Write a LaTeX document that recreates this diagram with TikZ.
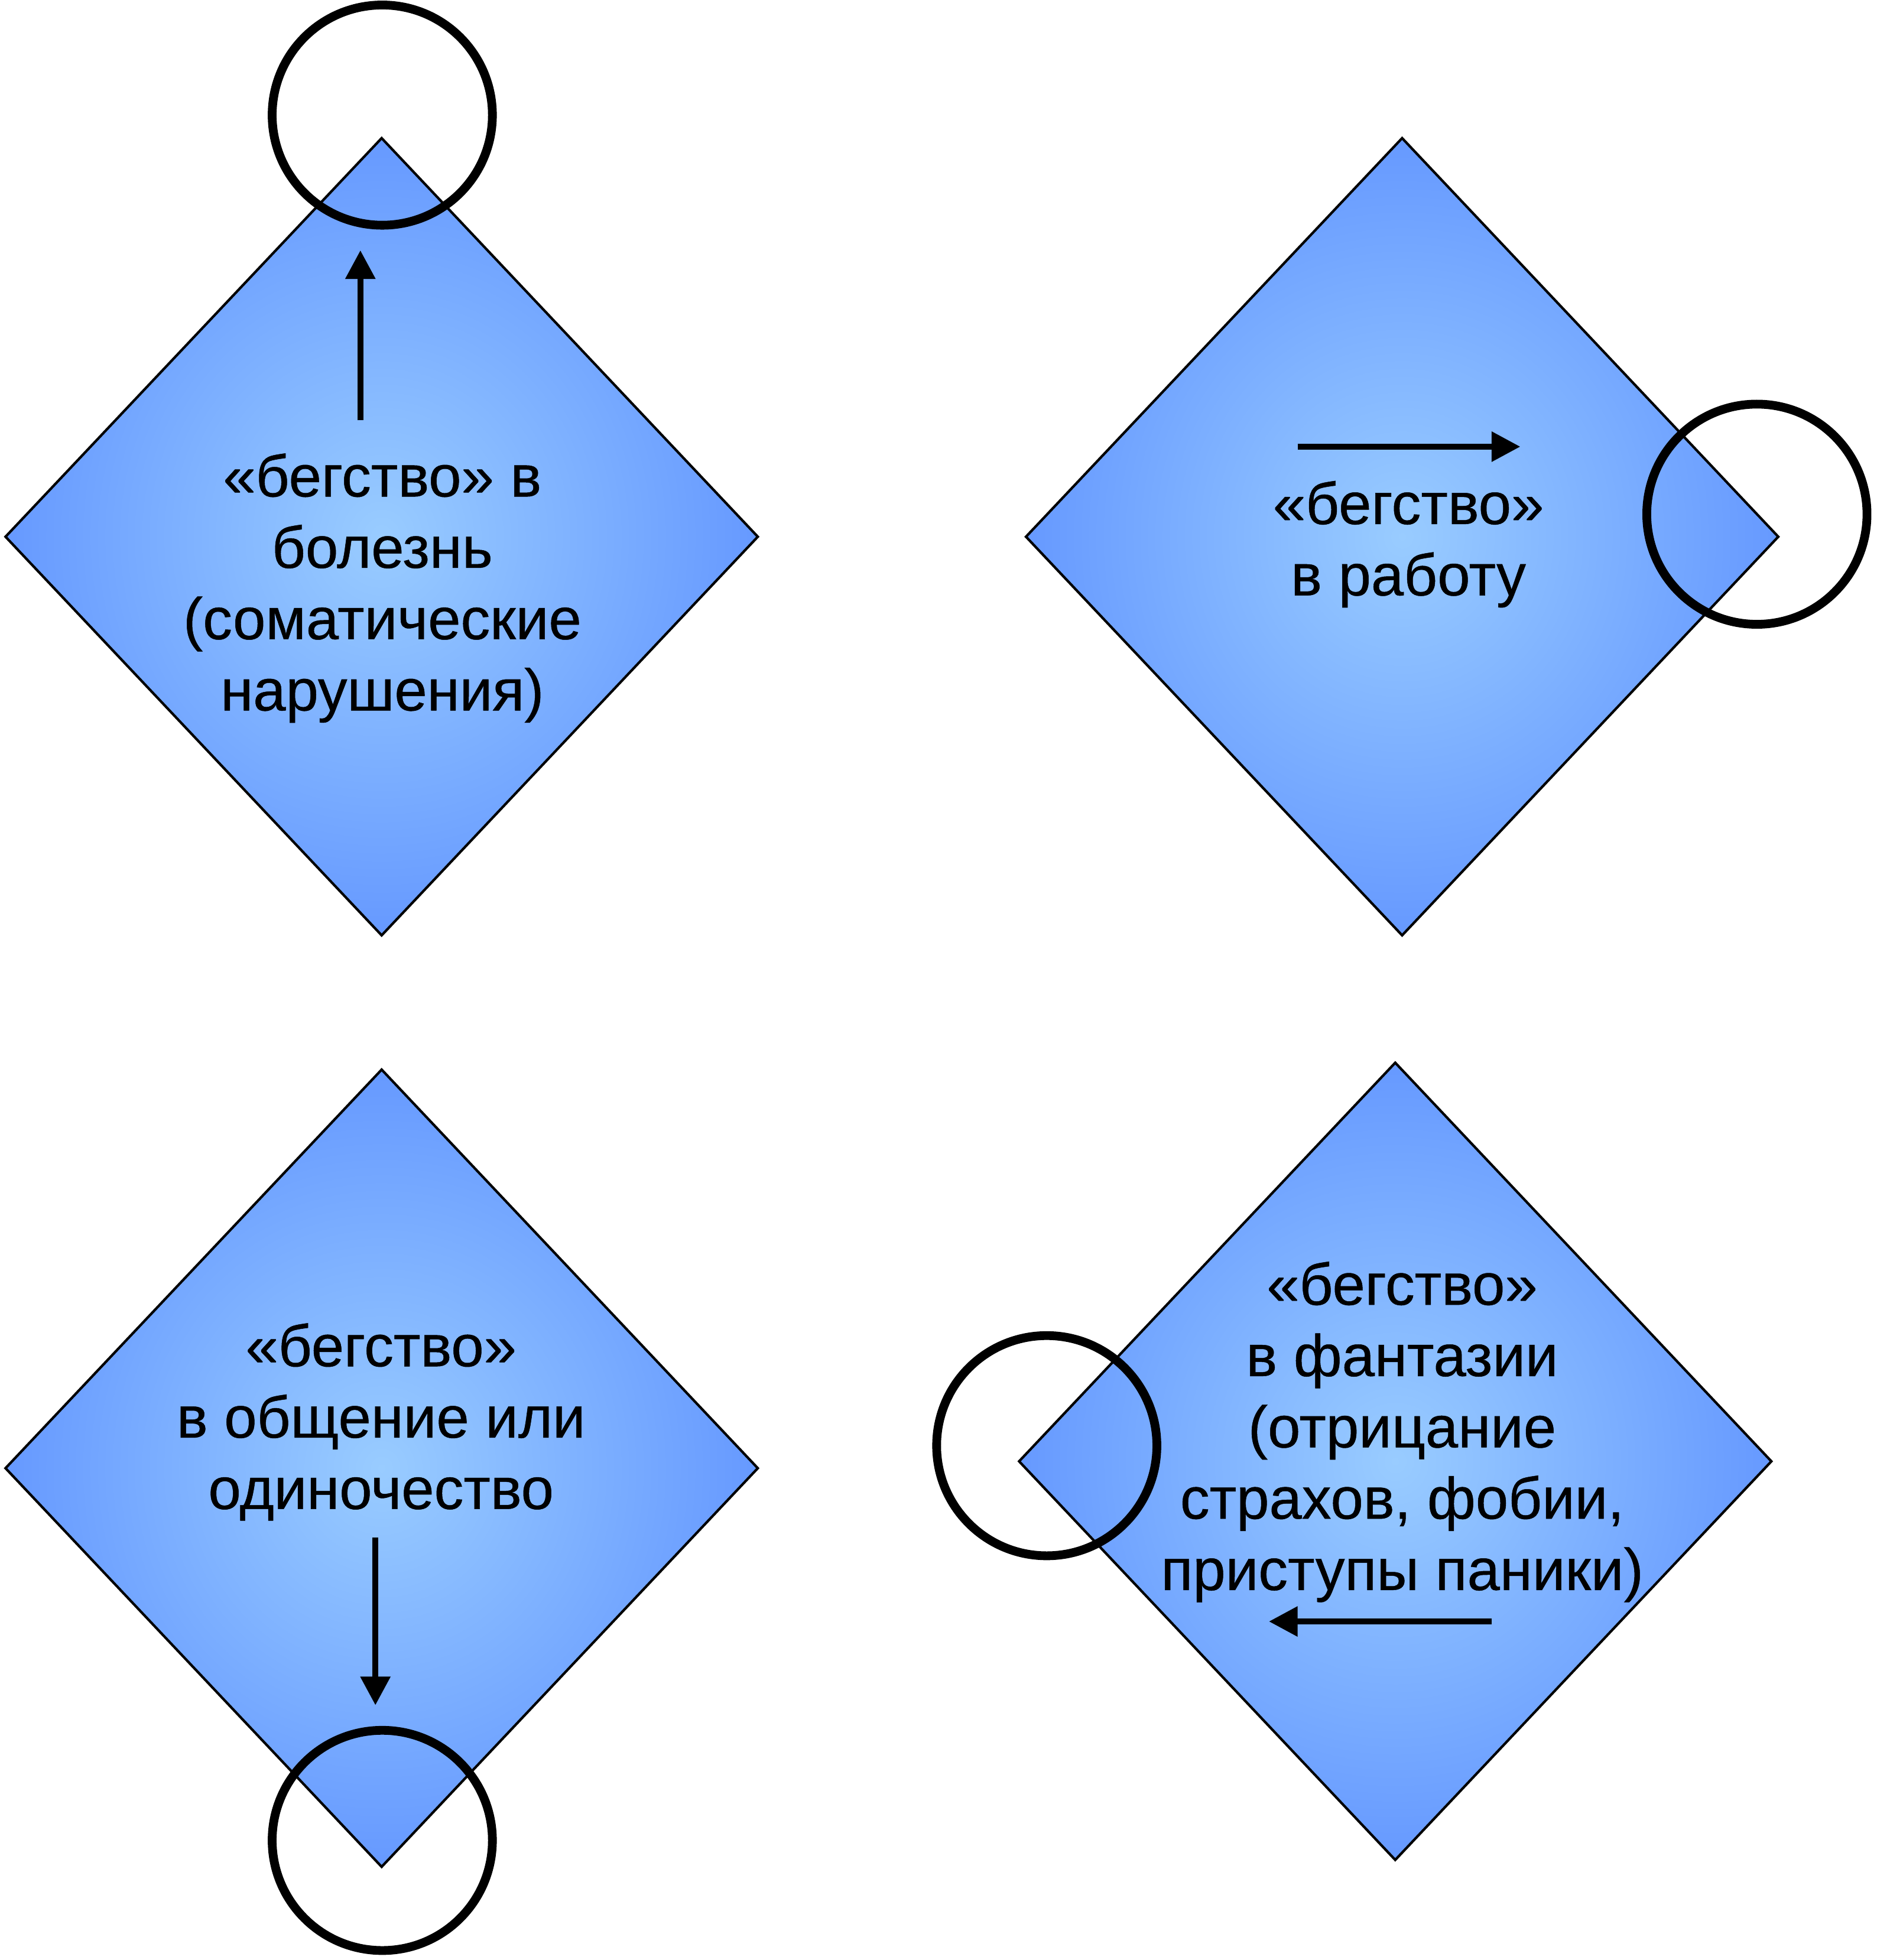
\documentclass[tikz,border=0pt]{standalone}
\usepackage{fontspec}
\setmainfont{Liberation Sans}[FakeBold=0.5]
\usetikzlibrary{shapes.geometric,arrows.meta}
\definecolor{lightb}{RGB}{153,204,255}
\definecolor{darkb}{RGB}{102,153,255}
\pgfdeclareradialshading{dshade}{\pgfpoint{0bp}{0bp}}{color(0bp)=(lightb); color(25bp)=(darkb); color(50bp)=(darkb)}
\tikzset{
  diam/.style={shape=diamond, draw=black, line width=2pt, shading=dshade, inner sep=0pt, minimum width=602pt, minimum height=638pt},
  ring/.style={shape=circle, draw=black, line width=7pt, inner sep=0pt, minimum size=176pt},
  lbl/.style={align=center, font=\fontsize{47}{57}\selectfont, inner sep=0pt},
  arr/.style={line width=5pt, -{Triangle[width=23pt,length=23pt]}}
}
\begin{document}
\begin{tikzpicture}[x=1pt,y=-1pt]
\useasboundingbox (0,0) rectangle (1500,1566.6);
% diamonds
\node[diam] (d1) at (305,429) {};
\node[diam] (d2) at (1120.5,429) {};
\node[diam] (d3) at (305,1173.5) {};
\node[diam] (d4) at (1115,1168) {};
% circles
\node[ring] (c1) at (305.5,92) {};
\node[ring] (c2) at (1404,411) {};
\node[ring] (c3) at (305.5,1471) {};
\node[ring] (c4) at (836.5,1155.5) {};
% texts
\node[lbl] (t1) at (305.5,470) {«бегство» в\\болезнь\\(соматические\\нарушения)};
\node[lbl] (t2) at (1125.5,435) {«бегство»\\в работу};
\node[lbl] (t3) at (304.5,1136.5) {«бегство»\\в общение или\\одиночество};
\node[lbl] (t4) at (1120.5,1144.5) {«бегство»\\в фантазии\\(отрицание\\страхов, фобии,\\приступы паники)};
% arrows
\coordinate (a1s) at (288,336);
\coordinate (a1e) at (288,200);
\coordinate (a2s) at (1037,357);
\coordinate (a2e) at (1215,357);
\coordinate (a3s) at (300,1229);
\coordinate (a3e) at (300,1363);
\coordinate (a4s) at (1192,1296);
\coordinate (a4e) at (1014,1296);
\draw[arr] (a1s) -- (a1e);
\draw[arr] (a2s) -- (a2e);
\draw[arr] (a3s) -- (a3e);
\draw[arr] (a4s) -- (a4e);
\end{tikzpicture}
\end{document}
